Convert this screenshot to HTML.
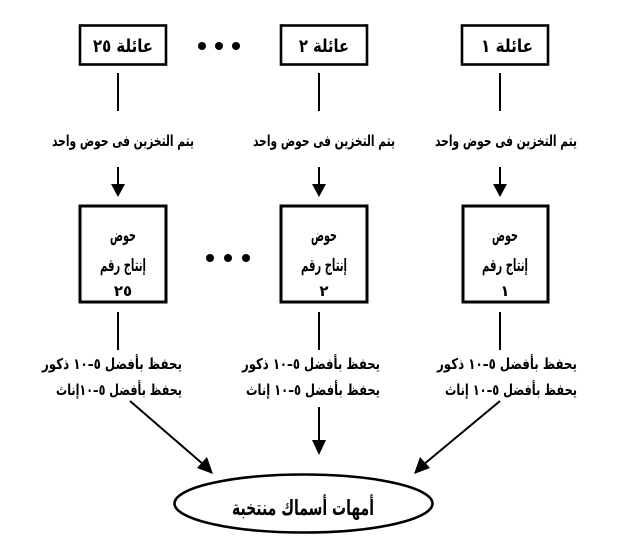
<!DOCTYPE html>
<html><head><meta charset="utf-8"><style>
html,body{margin:0;padding:0;background:#fff;}
svg{display:block;}
text{font-family:"DejaVu Sans","Liberation Sans",sans-serif;font-weight:bold;fill:#000;}
</style></head><body>
<svg width="620" height="557" viewBox="0 0 620 557" xmlns="http://www.w3.org/2000/svg">
<!-- top boxes -->
<g fill="none" stroke="#000" stroke-width="2.6">
<rect x="80" y="25.5" width="86" height="39"/>
<rect x="281" y="25.5" width="86" height="39"/>
<rect x="462" y="25.5" width="86" height="39"/>
</g>
<text x="123" y="52" font-size="18" direction="rtl" text-anchor="middle" textLength="60" lengthAdjust="spacingAndGlyphs">عائلة ٢٥</text>
<text x="324" y="52" font-size="18" direction="rtl" text-anchor="middle" textLength="50" lengthAdjust="spacingAndGlyphs">عائلة ٢</text>
<text x="507" y="52" font-size="18" direction="rtl" text-anchor="middle" textLength="52" lengthAdjust="spacingAndGlyphs">عائلة ١</text>
<!-- top dots -->
<circle cx="202" cy="46" r="4"/><circle cx="219" cy="46" r="4"/><circle cx="236" cy="46" r="4"/>
<!-- top lines -->
<g stroke="#000" stroke-width="2">
<line x1="118" y1="73" x2="118" y2="111"/>
<line x1="319" y1="73" x2="319" y2="111"/>
<line x1="500" y1="73" x2="500" y2="111"/>
</g>
<!-- storage text -->
<g font-size="15">
<text x="123" y="146" direction="rtl" text-anchor="middle" textLength="142" lengthAdjust="spacingAndGlyphs">يتم التخزين فى حوض واحد</text>
<text x="324" y="146" direction="rtl" text-anchor="middle" textLength="142" lengthAdjust="spacingAndGlyphs">يتم التخزين فى حوض واحد</text>
<text x="506" y="146" direction="rtl" text-anchor="middle" textLength="142" lengthAdjust="spacingAndGlyphs">يتم التخزين فى حوض واحد</text>
</g>
<!-- down arrows -->
<g stroke="#000" stroke-width="2">
<line x1="118" y1="167" x2="118" y2="186"/>
<line x1="319" y1="167" x2="319" y2="186"/>
<line x1="500" y1="167" x2="500" y2="186"/>
</g>
<polygon points="111,184 125,184 118,197"/>
<polygon points="312,184 326,184 319,197"/>
<polygon points="493,184 507,184 500,197"/>
<!-- production boxes -->
<g fill="none" stroke="#000" stroke-width="3">
<rect x="80" y="206" width="86" height="96"/>
<rect x="281" y="206" width="86" height="96"/>
<rect x="463" y="206" width="85" height="96"/>
</g>
<g font-size="17">
<text x="123" y="241" direction="rtl" text-anchor="middle" textLength="26" lengthAdjust="spacingAndGlyphs">حوض</text>
<text x="123" y="271" direction="rtl" text-anchor="middle" textLength="46" lengthAdjust="spacingAndGlyphs">إنتاج رقم</text>
<text x="123" y="296" direction="rtl" text-anchor="middle" font-size="15">٢٥</text>
<text x="324" y="241" direction="rtl" text-anchor="middle" textLength="26" lengthAdjust="spacingAndGlyphs">حوض</text>
<text x="324" y="271" direction="rtl" text-anchor="middle" textLength="46" lengthAdjust="spacingAndGlyphs">إنتاج رقم</text>
<text x="324" y="296" direction="rtl" text-anchor="middle" font-size="15">٢</text>
<text x="505" y="241" direction="rtl" text-anchor="middle" textLength="26" lengthAdjust="spacingAndGlyphs">حوض</text>
<text x="505" y="271" direction="rtl" text-anchor="middle" textLength="46" lengthAdjust="spacingAndGlyphs">إنتاج رقم</text>
<text x="505" y="296" direction="rtl" text-anchor="middle" font-size="15">١</text>
</g>
<!-- lower dots -->
<circle cx="210" cy="258" r="4"/><circle cx="228" cy="258" r="4"/><circle cx="246" cy="258" r="4"/>
<!-- lines below boxes -->
<g stroke="#000" stroke-width="2">
<line x1="118" y1="312" x2="118" y2="350"/>
<line x1="319" y1="312" x2="319" y2="350"/>
<line x1="500" y1="312" x2="500" y2="350"/>
</g>
<!-- keep text -->
<g font-size="15">
<text x="112" y="369" direction="rtl" text-anchor="middle" textLength="140" lengthAdjust="spacingAndGlyphs">يحفظ بأفضل ٥–١٠ ذكور</text>
<text x="119" y="395" direction="rtl" text-anchor="middle" textLength="126" lengthAdjust="spacingAndGlyphs">يحفظ بأفضل ٥–١٠إناث</text>
<text x="311" y="369" direction="rtl" text-anchor="middle" textLength="138" lengthAdjust="spacingAndGlyphs">يحفظ بأفضل ٥–١٠ ذكور</text>
<text x="313" y="395" direction="rtl" text-anchor="middle" textLength="134" lengthAdjust="spacingAndGlyphs">يحفظ بأفضل ٥–١٠ إناث</text>
<text x="507" y="369" direction="rtl" text-anchor="middle" textLength="140" lengthAdjust="spacingAndGlyphs">يحفظ بأفضل ٥–١٠ ذكور</text>
<text x="511" y="395" direction="rtl" text-anchor="middle" textLength="132" lengthAdjust="spacingAndGlyphs">يحفظ بأفضل ٥–١٠ إناث</text>
</g>
<!-- arrows to ellipse -->
<g stroke="#000" stroke-width="2">
<line x1="130" y1="401" x2="204" y2="465"/>
<line x1="319" y1="407" x2="319" y2="442"/>
<line x1="500" y1="401" x2="423" y2="465"/>
</g>
<polygon points="312,440 326,440 319,455"/>
<polygon points="213,474 197,468 207,457"/>
<polygon points="414,474 420,457 430,468"/>
<!-- ellipse -->
<ellipse cx="303.5" cy="503.5" rx="129" ry="29" fill="none" stroke="#000" stroke-width="2.6"/>
<text x="303" y="515" font-size="21" direction="rtl" text-anchor="middle" textLength="142" lengthAdjust="spacingAndGlyphs">أمهات أسماك منتخبة</text>
</svg>
</body></html>
